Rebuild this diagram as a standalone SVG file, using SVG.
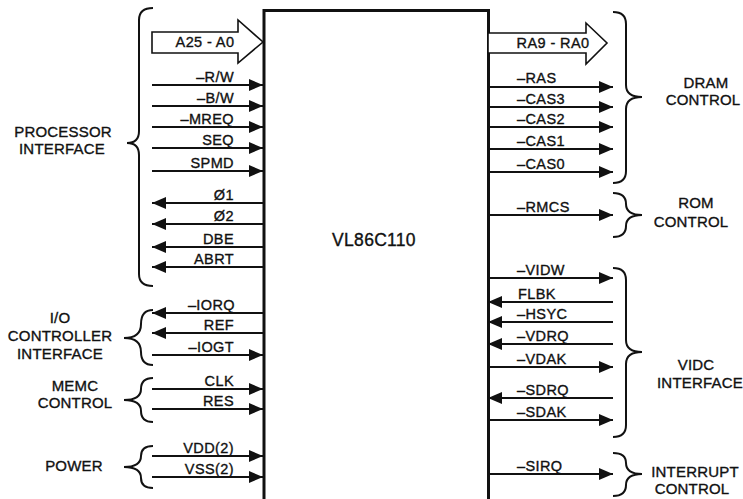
<svg xmlns="http://www.w3.org/2000/svg" width="743" height="499" viewBox="0 0 743 499">
<style>
text{font-family:"Liberation Sans",Arial,sans-serif;fill:#111;stroke:#111;stroke-width:0.35}
.sig{font-size:14.5px;letter-spacing:0.4px}
.sl{text-anchor:end}
.grp{font-size:15px;text-anchor:middle;letter-spacing:0.2px}
.ln{stroke:#111;stroke-width:1.8;fill:none;marker-end:url(#ah)}
.br{stroke:#111;stroke-width:2;fill:none}
.bus{stroke:#111;stroke-width:1.6;fill:#fff}
</style>
<defs>
<marker id="ah" viewBox="0 0 14 12" refX="14" refY="6" markerWidth="14" markerHeight="12" markerUnits="userSpaceOnUse" orient="auto">
<path d="M0,0 L14,6 L0,12 z" fill="#111"/>
</marker>
</defs>
<rect width="743" height="499" fill="#fff"/>

<g id="chip">
<path d="M264,499 V10.5 H488.5 V499" fill="none" stroke="#111" stroke-width="3"/>
<text x="374" y="246" style="font-size:17.5px;text-anchor:middle;letter-spacing:0.3px">VL86C110</text>
</g>

<g id="connectors">
<polygon class="bus" points="152,32 238,32 238,20 263,42 238,63 238,53 152,53"/>
<polygon class="bus" points="488,33 586,33 586,23 607,43 586,64 586,53 488,53"/>
<line class="ln" x1="152" y1="85" x2="263" y2="85"/>
<line class="ln" x1="152" y1="106" x2="263" y2="106"/>
<line class="ln" x1="152" y1="127" x2="263" y2="127"/>
<line class="ln" x1="152" y1="148" x2="263" y2="148"/>
<line class="ln" x1="152" y1="171" x2="263" y2="171"/>
<line class="ln" x1="263" y1="203" x2="152" y2="203"/>
<line class="ln" x1="263" y1="224" x2="152" y2="224"/>
<line class="ln" x1="263" y1="247" x2="152" y2="247"/>
<line class="ln" x1="263" y1="267" x2="152" y2="267"/>
<line class="ln" x1="263" y1="313" x2="152" y2="313"/>
<line class="ln" x1="263" y1="333" x2="152" y2="333"/>
<line class="ln" x1="152" y1="355" x2="263" y2="355"/>
<line class="ln" x1="152" y1="389" x2="263" y2="389"/>
<line class="ln" x1="152" y1="409" x2="263" y2="409"/>
<line class="ln" x1="152" y1="456" x2="263" y2="456"/>
<line class="ln" x1="152" y1="477" x2="263" y2="477"/>

<line class="ln" x1="488" y1="87" x2="613" y2="87"/>
<line class="ln" x1="488" y1="107" x2="613" y2="107"/>
<line class="ln" x1="488" y1="127" x2="613" y2="127"/>
<line class="ln" x1="488" y1="149" x2="613" y2="149"/>
<line class="ln" x1="488" y1="172" x2="613" y2="172"/>
<line class="ln" x1="488" y1="215" x2="613" y2="215"/>
<line class="ln" x1="488" y1="278" x2="613" y2="278"/>
<line class="ln" x1="613" y1="302" x2="488" y2="302"/>
<line class="ln" x1="613" y1="322" x2="488" y2="322"/>
<line class="ln" x1="613" y1="344" x2="488" y2="344"/>
<line class="ln" x1="488" y1="367" x2="613" y2="367"/>
<line class="ln" x1="613" y1="398" x2="488" y2="398"/>
<line class="ln" x1="488" y1="420" x2="613" y2="420"/>
<line class="ln" x1="488" y1="474" x2="613" y2="474"/>
</g>

<g id="signal-labels">
<text class="sig" x="205" y="47" style="text-anchor:middle">A25 - A0</text>
<text class="sig sl" x="234" y="82">–R/W</text>
<text class="sig sl" x="234" y="103">–B/W</text>
<text class="sig sl" x="234" y="124">–MREQ</text>
<text class="sig sl" x="234" y="145">SEQ</text>
<text class="sig sl" x="234" y="168">SPMD</text>
<text class="sig sl" x="234" y="200">Ø1</text>
<text class="sig sl" x="234" y="221">Ø2</text>
<text class="sig sl" x="234" y="244">DBE</text>
<text class="sig sl" x="234" y="264">ABRT</text>
<text class="sig sl" x="235" y="310">–IORQ</text>
<text class="sig sl" x="234" y="330">REF</text>
<text class="sig sl" x="234" y="352">–IOGT</text>
<text class="sig sl" x="234" y="386">CLK</text>
<text class="sig sl" x="234" y="406">RES</text>
<text class="sig sl" x="234" y="453">VDD(2)</text>
<text class="sig sl" x="234" y="474">VSS(2)</text>

<text class="sig" x="553" y="48" style="text-anchor:middle">RA9 - RA0</text>
<text class="sig" x="517" y="83">–RAS</text>
<text class="sig" x="517" y="104">–CAS3</text>
<text class="sig" x="517" y="124">–CAS2</text>
<text class="sig" x="517" y="146">–CAS1</text>
<text class="sig" x="517" y="169">–CAS0</text>
<text class="sig" x="517" y="212">–RMCS</text>
<text class="sig" x="517" y="275">–VIDW</text>
<text class="sig" x="518" y="299">FLBK</text>
<text class="sig" x="517" y="319">–HSYC</text>
<text class="sig" x="517" y="341">–VDRQ</text>
<text class="sig" x="517" y="364">–VDAK</text>
<text class="sig" x="517" y="395">–SDRQ</text>
<text class="sig" x="517" y="417">–SDAK</text>
<text class="sig" x="517" y="471">–SIRQ</text>
</g>

<g id="processor-interface">
<path class="br" d="M153,8 Q139,8 139,20 L139,131 Q139,143 127,143 Q139,143 139,155 L139,274 Q139,286 153,286"/>
<text class="grp" x="63" y="137">PROCESSOR</text>
<text class="grp" x="62" y="154">INTERFACE</text>
</g>
<g id="io-controller-interface">
<path class="br" d="M153,310 Q141,310 141,324 Q141,338 124,338 Q141,338 141,352 Q141,365 153,365"/>
<text class="grp" x="60" y="323">I/O</text>
<text class="grp" x="60" y="341">CONTROLLER</text>
<text class="grp" x="60" y="359">INTERFACE</text>
</g>
<g id="memc-control">
<path class="br" d="M153,378 Q141,378 141,389 Q141,400 124,400 Q141,400 141,411 Q141,422 153,422"/>
<text class="grp" x="75" y="391">MEMC</text>
<text class="grp" x="75" y="408">CONTROL</text>
</g>
<g id="power">
<path class="br" d="M153,446 Q141,446 141,456 Q141,467 124,467 Q141,467 141,478 Q141,488 153,488"/>
<text class="grp" x="74" y="471">POWER</text>
</g>

<g id="dram-control">
<path class="br" d="M613,12 Q626,12 626,24 L626,85 Q626,97 642,97 Q626,97 626,109 L626,171 Q626,183 613,183"/>
<text class="grp" x="706" y="88">DRAM</text>
<text class="grp" x="703" y="105">CONTROL</text>
</g>
<g id="rom-control">
<path class="br" d="M613,193 Q626,193 626,204 Q626,215 642,215 Q626,215 626,226 Q626,237 613,237"/>
<text class="grp" x="696" y="208">ROM</text>
<text class="grp" x="691" y="227">CONTROL</text>
</g>
<g id="vidc-interface">
<path class="br" d="M613,268 Q626,268 626,280 L626,340 Q626,352 642,352 Q626,352 626,364 L626,425 Q626,437 613,437"/>
<text class="grp" x="696" y="370">VIDC</text>
<text class="grp" x="700" y="388">INTERFACE</text>
</g>
<g id="interrupt-control">
<path class="br" d="M613,453 Q626,453 626,463 Q626,474 642,474 Q626,474 626,485 Q626,496 613,496"/>
<text class="grp" x="695" y="477">INTERRUPT</text>
<text class="grp" x="692" y="494">CONTROL</text>
</g>
</svg>
